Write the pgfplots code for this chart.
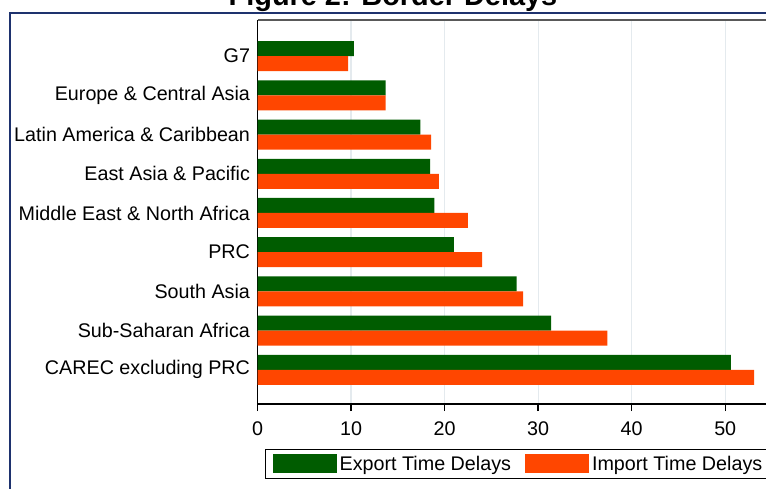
\documentclass[border=0pt]{standalone}
\usepackage{fontspec}
\setmainfont{Liberation Sans}
\usepackage{pgfplots}
\pgfplotsset{compat=1.18}
\definecolor{frameblue}{RGB}{30,50,110}
\definecolor{bargreen}{RGB}{0,92,0}
\definecolor{barorange}{RGB}{255,70,0}
\definecolor{gridc}{RGB}{228,234,238}
\begin{document}
\begin{tikzpicture}
\useasboundingbox (0,0) rectangle (766bp,-489bp);
\clip (0,0) rectangle (766bp,-489bp);
\draw[frameblue, line width=2bp] (9.5bp,-600bp) -- (9.5bp,-13.3bp) -- (900bp,-13.3bp);
\node[anchor=base, inner sep=0pt, font=\bfseries\fontsize{29}{32}\selectfont] at (393bp,-5bp) {Figure 2: Border Delays};
\begin{axis}[name=ax, at={(257.5bp,-404bp)}, anchor=south west,
  scale only axis, width=514.5bp, height=384bp,
  xbar, bar width=15bp,
  xmin=0, xmax=55, ymin=-0.87, ymax=8.92,
  axis x line*=bottom, axis y line*=left,
  axis line style={-, black, line width=1.5bp},
  xtick={0,10,...,50}, ytick={0,...,8},
  yticklabels={CAREC excluding PRC, Sub-Saharan Africa, South Asia, PRC, Middle East \& North Africa, East Asia \& Pacific, Latin America \& Caribbean, Europe \& Central Asia, G7},
  tick align=outside, major tick length=7bp,
  xtick style={black, line width=1.3bp}, ytick style={draw=none},
  xmajorgrids, grid style={gridc, line width=1.2bp},
  tick label style={font=\fontsize{19.8}{23}\selectfont},
  xticklabel style={yshift=-7bp},
  yticklabel style={xshift=3bp},
  /pgf/number format/assume math mode=true,
  legend columns=2,
  legend style={at={(0.0146,-0.117)}, anchor=north west, draw=black, line width=1.3bp,
    font=\fontsize{19.8}{23}\selectfont, inner xsep=7bp, inner ysep=4.5bp,
    nodes={inner xsep=3bp, inner ysep=2bp},
    column sep=0bp,
    /tikz/every even column/.append style={column sep=11bp}},
  legend image code/.code={\fill[#1] (0bp,-9.5bp) rectangle (64bp,9.5bp);},
]
\addplot[fill=bargreen, draw=none, bar shift=7.5bp] coordinates {(10.3,8) (13.7,7) (17.4,6) (18.45,5) (18.9,4) (21.0,3) (27.7,2) (31.4,1) (50.6,0)};
\addplot[fill=barorange, draw=none, bar shift=-7.5bp] coordinates {(9.7,8) (13.7,7) (18.55,6) (19.4,5) (22.5,4) (24.0,3) (28.4,2) (37.4,1) (53.1,0)};
\legend{Export Time Delays, Import Time Delays}
\end{axis}
\draw[black!65, line width=1.3bp] (ax.north west) -- (ax.north east);
\end{tikzpicture}
\end{document}
